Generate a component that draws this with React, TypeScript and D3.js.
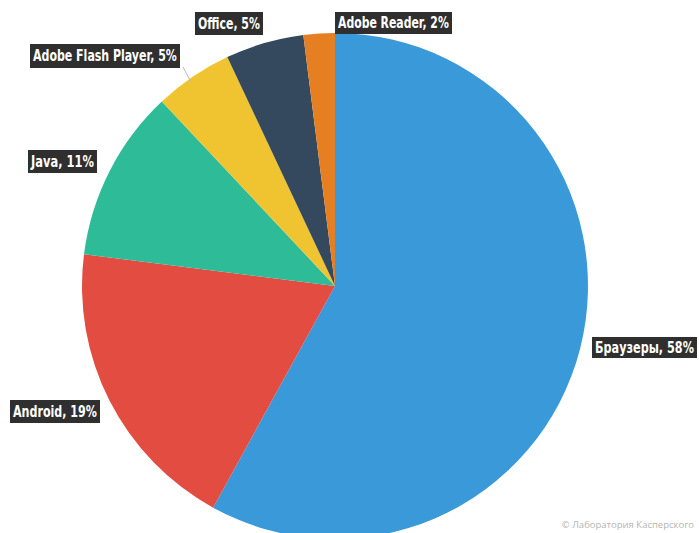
import React, { useLayoutEffect, useRef, useState } from "react";
import * as d3 from "d3";

const categories = ["Браузеры", "Android", "Java", "Adobe Flash Player", "Office", "Adobe Reader"];
const values = [58, 19, 11, 5, 5, 2];
const colors = ["#3a9ad9", "#e24c41", "#2ebb98", "#f0c431", "#34495e", "#e67e22"];

// label box layout: [x, y, width, height]
const labelBoxes: [number, number, number, number][] = [
  [592, 337, 105, 21],
  [10, 400, 90, 23],
  [28, 150, 69, 23],
  [30, 44, 150, 24],
  [195, 12, 68, 23],
  [335, 12, 117, 22],
];

const W = 699, H = 533;
const cx = 335, cy = 286, R = 253;

function Label({ text, box }: { text: string; box: [number, number, number, number] }) {
  const [x, y, w, h] = box;
  const ref = useRef<SVGTextElement>(null);
  const [sx, setSx] = useState(1);
  useLayoutEffect(() => {
    if (ref.current) {
      const nat = ref.current.getComputedTextLength();
      if (nat > 0) setSx((w - 6) / nat);
    }
  }, [w, text]);
  return (
    <g>
      <rect x={x} y={y} width={w} height={h} fill="#2f2f2f" />
      <text
        ref={ref}
        transform={`translate(${x + 3},${y + h / 2 + 5}) scale(${sx},1)`}
        fill="#fff"
        fontFamily="'Liberation Sans Narrow', 'DejaVu Sans Condensed', sans-serif"
        fontWeight="bold"
        fontSize={15}
      >
        {text}
      </text>
    </g>
  );
}

export default function App() {
  const pie = d3.pie<number>().sort(null).value((d) => d)(values);
  const arc = d3.arc<d3.PieArcDatum<number>>().innerRadius(0).outerRadius(R);
  return (
    <svg width={W} height={H} style={{ position: "fixed", left: 0, top: 0, background: "#fff" }}>
      <g transform={`translate(${cx},${cy})`}>
        {pie.map((p, i) => (
          <path key={i} d={arc(p) || ""} fill={colors[i]} />
        ))}
      </g>
      <line x1={183} y1={67} x2={191} y2={82} stroke="#bbb" strokeWidth={1} />
      {categories.map((c, i) => (
        <Label key={c} text={`${c}, ${values[i]}%`} box={labelBoxes[i]} />
      ))}
      <text x={694} y={528} textAnchor="end" fill="#b5b5b5" fontFamily="'Open Sans', sans-serif" fontSize={9.5}>
        © Лаборатория Касперского
      </text>
    </svg>
  );
}
